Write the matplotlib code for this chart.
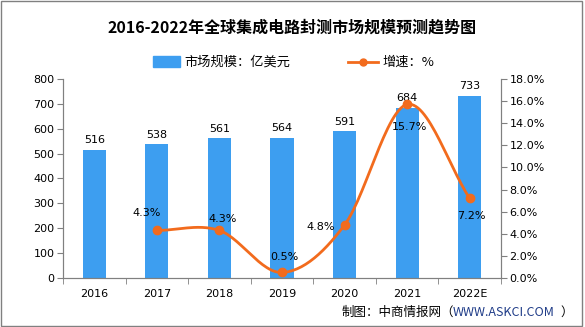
import numpy as np
import matplotlib
matplotlib.use("Agg")
import matplotlib.pyplot as plt
from matplotlib.patches import Rectangle

plt.rcParams['font.family'] = ['Noto Sans CJK SC', 'DejaVu Sans']

# --- data ---
years = ["2016", "2017", "2018", "2019", "2020", "2021", "2022E"]
market_size = [516, 538, 561, 564, 591, 684, 733]
growth_years = ["2017", "2018", "2019", "2020", "2021", "2022E"]
growth = [4.3, 4.3, 0.5, 4.8, 15.7, 7.2]
# where each growth label sits relative to its marker (pixels)
label_offsets = [(-10, 17), (3, 11), (2, 15), (-24, -2), (2, -23), (2, -18)]

BAR_COLOR = "#3d9ef0"
LINE_COLOR = "#f26b1d"
AXIS_GRAY = "#808080"


def catmull_rom(x, y, n=30):
    # smooth curve through the points, like the original chart's spline
    x = np.asarray(x, float)
    y = np.asarray(y, float)
    px = np.concatenate([[2 * x[0] - x[1]], x, [2 * x[-1] - x[-2]]])
    py = np.concatenate([[2 * y[0] - y[1]], y, [2 * y[-1] - y[-2]]])
    xs, ys = [], []
    t = np.linspace(0, 1, n)
    for i in range(1, len(px) - 2):
        for p, out in ((px, xs), (py, ys)):
            p0, p1, p2, p3 = p[i - 1], p[i], p[i + 1], p[i + 2]
            out.extend(0.5 * ((2 * p1) + (-p0 + p2) * t
                              + (2 * p0 - 5 * p1 + 4 * p2 - p3) * t ** 2
                              + (-p0 + 3 * p1 - 3 * p2 + p3) * t ** 3))
    return np.array(xs), np.array(ys)


fig = plt.figure(figsize=(5.85, 3.27), dpi=100)
ax = fig.add_axes([63 / 585, 49 / 327, 438 / 585, 199 / 327])
ax2 = ax.twinx()

x = np.arange(len(years))
ax.bar(x, market_size, width=0.37, color=BAR_COLOR, zorder=2)
for xi, v in zip(x, market_size):
    ax.text(xi, v + 18, str(v), ha="center", va="bottom", fontsize=8,
            family="DejaVu Sans")

ax.set_xlim(-0.5, len(years) - 0.5)
ax.set_ylim(0, 800)
ax.set_yticks(range(0, 801, 100))
ax.set_xticks(x)
ax.set_xticklabels(years)
ax.set_xticks(np.arange(-0.5, len(years), 1), minor=True)
ax.tick_params(axis="x", which="major", length=0, pad=8)
ax.tick_params(axis="x", which="minor", length=4, color=AXIS_GRAY)
ax.tick_params(axis="y", length=4, color=AXIS_GRAY, pad=2)

gx = np.array([years.index(g) for g in growth_years])
sx, sy = catmull_rom(gx, growth)
ax2.plot(sx, sy, color=LINE_COLOR, lw=2, zorder=3)
ax2.plot(gx, growth, "o", color=LINE_COLOR, ms=6, zorder=4)
for xi, v, (dx, dy) in zip(gx, growth, label_offsets):
    ax2.annotate(f"{v}%", (xi, v), xytext=(dx, dy), textcoords="offset pixels",
                 ha="center", va="center", fontsize=8, family="DejaVu Sans",
                 zorder=5)

ax2.set_ylim(0, 18)
ax2.set_yticks(np.arange(0, 18.1, 2))
ax2.set_yticklabels([f"{v:.1f}%" for v in np.arange(0, 18.1, 2)])
ax2.tick_params(axis="y", length=4, color=AXIS_GRAY, pad=2)

for a in (ax, ax2):
    a.spines["top"].set_visible(False)
    for s in ("left", "right", "bottom"):
        a.spines[s].set_color(AXIS_GRAY)
    for lab in a.get_xticklabels() + a.get_yticklabels():
        lab.set_fontsize(8)
        lab.set_family("DejaVu Sans")

fig.text(0.5, 0.915, "2016-2022年全球集成电路封测市场规模预测趋势图",
         ha="center", va="center", fontsize=11.5, fontweight="bold")

# legend drawn by hand to sit like the original
ly = 1 - 62 / 327
fig.patches.append(Rectangle((153 / 585, ly - 5 / 327), 27 / 585, 11 / 327,
                             transform=fig.transFigure, color=BAR_COLOR))
fig.text(184 / 585, ly, "市场规模：亿美元", ha="left", va="center",
         fontsize=9.5)
fig.lines.append(plt.Line2D([348 / 585, 378 / 585], [ly] * 2,
                            transform=fig.transFigure, color=LINE_COLOR, lw=2))
fig.lines.append(plt.Line2D([363 / 585], [ly], marker="o",
                            transform=fig.transFigure, color=LINE_COLOR, ms=5))
fig.text(382 / 585, ly, "增速：%", ha="left", va="center", fontsize=9.5)

sy_ = 1 - 312 / 327
fig.text(342 / 585, sy_, "制图：中商情报网（", ha="left", va="center",
         fontsize=9)
fig.text(453 / 585, sy_, "WWW.ASKCI.COM", ha="left", va="center",
         fontsize=9, color="#1f3c88")
fig.text(560 / 585, sy_, "）", ha="left", va="center", fontsize=9)

fig.patches.append(Rectangle((0.002, 0.003), 0.993, 0.994,
                             transform=fig.transFigure, fill=False,
                             edgecolor=AXIS_GRAY, lw=1))

fig.savefig("out.png", dpi=100, facecolor="white")
